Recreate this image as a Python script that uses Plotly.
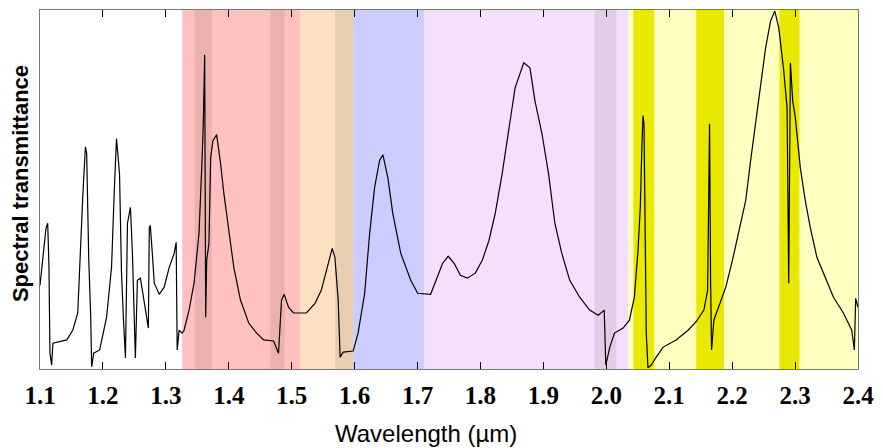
import plotly.graph_objects as go

# Spectrum (wavelength in micrometres, relative transmittance)
wavelength = [
    1.1000, 1.1095, 1.1122, 1.1142, 1.1158, 1.1185, 1.1205, 1.1426, 1.1521, 1.1600,
    1.1679, 1.1722, 1.1742, 1.1774, 1.1806, 1.1821, 1.1853, 1.1948, 1.2058, 1.2137,
    1.2185, 1.2216, 1.2264, 1.2295, 1.2327, 1.2358, 1.2390, 1.2437, 1.2469, 1.2485,
    1.2516, 1.2548, 1.2595, 1.2627, 1.2690, 1.2722, 1.2737, 1.2753, 1.2785, 1.2816,
    1.2895, 1.2974, 1.3053, 1.3132, 1.3164, 1.3180, 1.3211, 1.3259, 1.3290, 1.3369,
    1.3448, 1.3527, 1.3575, 1.3595, 1.3617, 1.3633, 1.3649, 1.3685, 1.3712, 1.3748,
    1.3807, 1.3870, 1.3922, 1.4001, 1.4080, 1.4186, 1.4317, 1.4443, 1.4554, 1.4712,
    1.4791, 1.4838, 1.4881, 1.4949, 1.5028, 1.5233, 1.5371, 1.5470, 1.5565, 1.5644,
    1.5687, 1.5739, 1.5770, 1.5818, 1.5976, 1.6055, 1.6160, 1.6239, 1.6318, 1.6397,
    1.6449, 1.6528, 1.6607, 1.6734, 1.6892, 1.7002, 1.7208, 1.7318, 1.7397, 1.7487,
    1.7582, 1.7681, 1.7792, 1.7918, 1.8029, 1.8135, 1.8234, 1.8345, 1.8451, 1.8550,
    1.8688, 1.8787, 1.8866, 1.8977, 1.9082, 1.9182, 1.9293, 1.9419, 1.9577, 1.9735,
    1.9872, 1.9967, 1.9992, 2.0056, 2.0130, 2.0267, 2.0367, 2.0446, 2.0504, 2.0540,
    2.0567, 2.0583, 2.0599, 2.0615, 2.0635, 2.0662, 2.0714, 2.0793, 2.0904, 2.1109,
    2.1299, 2.1425, 2.1551, 2.1610, 2.1641, 2.1657, 2.1673, 2.1709, 2.1820, 2.1899,
    2.2005, 2.2104, 2.2215, 2.2294, 2.2373, 2.2452, 2.2531, 2.2610, 2.2678, 2.2741,
    2.2815, 2.2873, 2.2899, 2.2926, 2.2962, 2.3004, 2.3083, 2.3162, 2.3242, 2.3347,
    2.3478, 2.3610, 2.3768, 2.3901, 2.3942, 2.3963, 2.4000,
]
transmittance = [
    0.233, 0.392, 0.406, 0.289, 0.044, 0.011, 0.072, 0.081, 0.108, 0.156,
    0.478, 0.619, 0.600, 0.311, 0.144, 0.006, 0.044, 0.053, 0.144, 0.283,
    0.517, 0.642, 0.544, 0.267, 0.136, 0.031, 0.406, 0.450, 0.322, 0.211,
    0.031, 0.247, 0.253, 0.219, 0.144, 0.114, 0.394, 0.400, 0.322, 0.239,
    0.208, 0.228, 0.283, 0.322, 0.353, 0.053, 0.108, 0.100, 0.108, 0.164,
    0.239, 0.378, 0.581, 0.683, 0.875, 0.144, 0.303, 0.350, 0.589, 0.636,
    0.653, 0.572, 0.489, 0.386, 0.283, 0.192, 0.128, 0.100, 0.081, 0.078,
    0.044, 0.192, 0.208, 0.172, 0.156, 0.156, 0.183, 0.219, 0.283, 0.336,
    0.311, 0.192, 0.033, 0.047, 0.050, 0.100, 0.211, 0.378, 0.506, 0.581,
    0.597, 0.533, 0.433, 0.322, 0.247, 0.211, 0.208, 0.256, 0.294, 0.314,
    0.294, 0.261, 0.253, 0.267, 0.303, 0.358, 0.433, 0.544, 0.672, 0.783,
    0.853, 0.839, 0.747, 0.656, 0.544, 0.406, 0.322, 0.247, 0.200, 0.164,
    0.150, 0.164, 0.011, 0.061, 0.100, 0.114, 0.136, 0.200, 0.331, 0.450,
    0.628, 0.706, 0.683, 0.378, 0.100, 0.003, 0.011, 0.033, 0.061, 0.081,
    0.108, 0.131, 0.164, 0.219, 0.683, 0.247, 0.053, 0.136, 0.192, 0.228,
    0.303, 0.378, 0.469, 0.581, 0.683, 0.794, 0.894, 0.969, 0.997, 0.950,
    0.839, 0.728, 0.239, 0.853, 0.747, 0.700, 0.561, 0.469, 0.394, 0.311,
    0.256, 0.200, 0.156, 0.108, 0.053, 0.197, 0.172,
]

# Spectral bands (start, end in micrometres)
band_start = [1.326, 1.514, 1.598, 1.711, 2.035]
band_end = [1.514, 1.598, 1.711, 2.035, 2.400]
band_colors = ["#FFC0C0", "#FCE0C0", "#CCCCFF", "#F4E0FC", "#FFFFC0"]

# Darker absorption sub-bands
dark_start = [1.346, 1.466, 1.569, 1.981]
dark_end = [1.373, 1.489, 1.598, 2.016]

# Bright yellow bands
bright_start = [2.043, 2.143, 2.275]
bright_end = [2.076, 2.187, 2.307]

tick_vals = [1.1, 1.2, 1.3, 1.4, 1.5, 1.6, 1.7, 1.8, 1.9, 2.0, 2.1, 2.2, 2.3, 2.4]
tick_text = ["1.1", "1.2", "1.3", "1.4", "1.5", "1.6", "1.7", "1.8", "1.9", "2.0",
             "2.1", "2.2", "2.3", "2.4"]

shapes = []
for s, e, c in zip(band_start, band_end, band_colors):
    shapes.append(dict(type="rect", xref="x", yref="paper", x0=s, x1=e, y0=0, y1=1,
                       fillcolor=c, line=dict(width=0), layer="below"))
for s, e in zip(dark_start, dark_end):
    shapes.append(dict(type="rect", xref="x", yref="paper", x0=s, x1=e, y0=0, y1=1,
                       fillcolor="rgba(60,40,40,0.10)", line=dict(width=0), layer="below"))
for s, e in zip(bright_start, bright_end):
    shapes.append(dict(type="rect", xref="x", yref="paper", x0=s, x1=e, y0=0, y1=1,
                       fillcolor="#E8E800", line=dict(width=0), layer="below"))

fig = go.Figure()
fig.add_trace(go.Scatter(x=wavelength, y=transmittance, mode="lines",
                         line=dict(color="black", width=1.2), showlegend=False,
                         hoverinfo="skip"))

fig.update_layout(
    width=883, height=448,
    margin=dict(l=40, r=20, t=9, b=79),
    paper_bgcolor="white", plot_bgcolor="white",
    shapes=shapes,
    xaxis=dict(range=[1.1, 2.4], tickvals=tick_vals, ticktext=tick_text,
               ticks="inside", ticklen=7, tickwidth=1, tickcolor="black",
               showline=True, linecolor="#777777", linewidth=1, mirror="allticks",
               showgrid=False, zeroline=False, ticklabelstandoff=4,
               tickfont=dict(family="Liberation Serif", size=25, color="black", weight="bold")),
    yaxis=dict(range=[0, 1], showticklabels=False, ticks="", showgrid=False,
               zeroline=False, showline=True, linecolor="#777777", linewidth=1, mirror=True),
    annotations=[
        dict(text="Wavelength (µm)", xref="paper", yref="paper", x=0.4714, y=0,
             yshift=-64, xanchor="center", yanchor="middle", showarrow=False,
             font=dict(family="Liberation Sans", size=24, color="black")),
        dict(text="Spectral transmittance", xref="paper", yref="paper", x=0, y=0.515,
             xshift=-20, xanchor="center", yanchor="middle", textangle=-90,
             showarrow=False,
             font=dict(family="Liberation Sans", size=22, color="black", weight="bold")),
    ],
)

fig.write_html("out.html")
